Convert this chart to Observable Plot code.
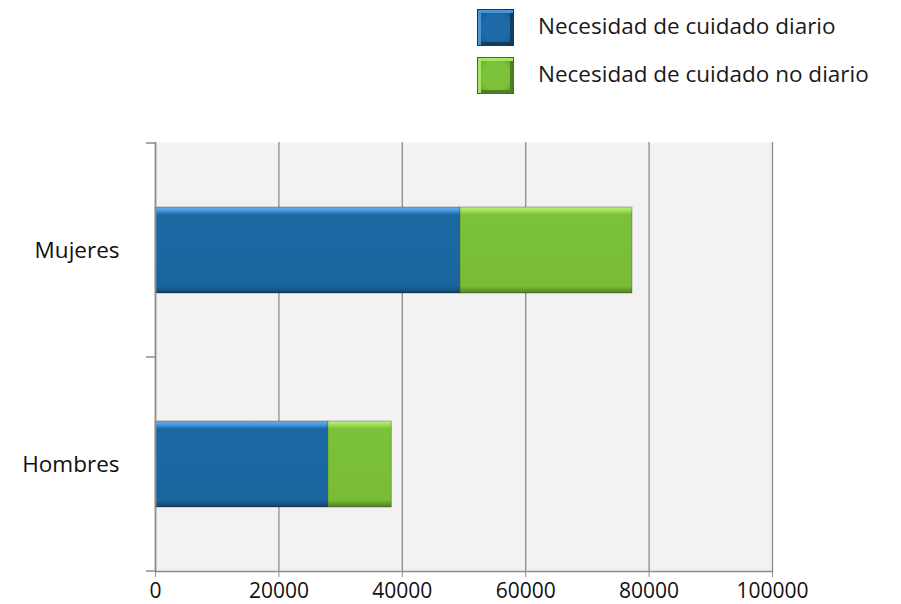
<!DOCTYPE html>
<html>
<head>
<meta charset="utf-8">
<script src="https://cdn.jsdelivr.net/npm/d3@7"></script>
<script src="https://cdn.jsdelivr.net/npm/@observablehq/plot@0.6"></script>
<style>
  html, body { margin: 0; padding: 0; background: #fff; }
  #wrap { position: relative; width: 901px; height: 604px; font-family: "Open Sans", sans-serif; }
  #legend { position: absolute; left: 477px; top: 9px; }
  .item { display: flex; align-items: center; height: 37px; margin-bottom: 11px; }
  .sw { width: 37px; height: 37px; box-sizing: border-box; border: 1px solid rgba(0,0,0,0.35); margin-right: 24px; }
  .lab { font-size: 22.5px; color: #1a1a1a; white-space: nowrap; position: relative; top: -2px; }
</style>
</head>
<body>
<div id="wrap"></div>
<script>
const categories = ["Mujeres", "Hombres"];
const series = ["Necesidad de cuidado diario", "Necesidad de cuidado no diario"];
const diario = [49400, 28000];
const noDiario = [27900, 10300];
const xTicks = [0, 20000, 40000, 60000, 80000, 100000];
const gridTicks = [20000, 40000, 60000, 80000, 100000];

const gradIds = ["gBlue", "gGreen"];

const data = [];
categories.forEach((c, i) => {
  data.push({cat: c, series: series[0], value: diario[i]});
  data.push({cat: c, series: series[1], value: noDiario[i]});
});

const ns = "http://www.w3.org/2000/svg";

function defsMark() {
  const d = document.createElementNS(ns, "defs");
  d.innerHTML = `
    <linearGradient id="gBlue" x1="0" y1="0" x2="0" y2="1">
      <stop offset="0" stop-color="#66b2ee"/>
      <stop offset="0.045" stop-color="#4597da"/>
      <stop offset="0.09" stop-color="#1c68a3"/>
      <stop offset="0.92" stop-color="#1a659e"/>
      <stop offset="0.96" stop-color="#165584"/>
      <stop offset="1" stop-color="#123f63"/>
    </linearGradient>
    <linearGradient id="gGreen" x1="0" y1="0" x2="0" y2="1">
      <stop offset="0" stop-color="#baf57a"/>
      <stop offset="0.045" stop-color="#9ddc58"/>
      <stop offset="0.09" stop-color="#7bc139"/>
      <stop offset="0.92" stop-color="#78bd35"/>
      <stop offset="0.96" stop-color="#639e2b"/>
      <stop offset="1" stop-color="#567f2c"/>
    </linearGradient>`;
  return d;
}

function bandEdgeTicks(index, scales, values, dimensions) {
  const y = scales.y;
  const bw = typeof y.bandwidth === "function" ? y.bandwidth() : scales.scales.y.bandwidth;
  const step = typeof y.step === "function" ? y.step() : scales.scales.y.step;
  const pad = (step - bw) / 2;
  const edges = categories.map(c => y(c) - pad);
  edges.push(y(categories[categories.length - 1]) + bw + pad);
  const g = document.createElementNS(ns, "g");
  const x0 = dimensions.marginLeft;
  for (const e of edges) {
    const l = document.createElementNS(ns, "line");
    l.setAttribute("x1", x0 - 9);
    l.setAttribute("x2", x0);
    l.setAttribute("y1", e);
    l.setAttribute("y2", e);
    l.setAttribute("stroke", "#8c8c8c");
    l.setAttribute("stroke-width", 1.5);
    g.appendChild(l);
  }
  return g;
}

const chart = Plot.plot({
  width: 901,
  height: 604,
  marginLeft: 155,
  marginRight: 129,
  marginTop: 142,
  marginBottom: 33,
  style: {fontFamily: "'Open Sans', sans-serif", background: "transparent"},
  x: {domain: [0, 100000]},
  y: {domain: categories, paddingInner: 0.6, paddingOuter: 0.3},
  color: {domain: series, range: gradIds.map(id => `url(#${id})`)},
  marks: [
    defsMark,
    Plot.frame({fill: "#f2f2f2", stroke: null}),
    Plot.gridX(gridTicks, {stroke: "#8c8c8c", strokeOpacity: 1, strokeWidth: 1.3}),
    Plot.barX(data, Plot.stackX({x: "value", y: "cat", fill: "series", stroke: "rgba(0,0,0,0.28)", strokeWidth: 1})),
    Plot.ruleX([0], {stroke: "#8c8c8c", strokeWidth: 1.8}),
    Plot.frame({anchor: "bottom", stroke: "#8c8c8c", strokeWidth: 1.5}),
    bandEdgeTicks,
    Plot.axisX({ticks: xTicks, tickFormat: d => String(d), tickSize: 6, tickPadding: 6, stroke: "#8c8c8c", fill: "#111", fontSize: 21, fontFamily: "'Open Sans', sans-serif", letterSpacing: "2.1px", label: null}),
    Plot.axisY({tickSize: 0, tickPadding: 36, fontSize: 22.5, fill: "#111", label: null})
  ]
});

const wrap = document.getElementById("wrap");
wrap.appendChild(chart);

const legend = document.createElement("div");
legend.id = "legend";
series.forEach((s, i) => {
  const item = document.createElement("div");
  item.className = "item";
  const sw = document.createElement("div");
  sw.className = "sw";
  sw.style.background = i === 0
    ? "radial-gradient(ellipse at center, #1c6aa8 55%, #14507f 100%)"
    : "radial-gradient(ellipse at center, #7cc33a 55%, #5c9a2a 100%)";
  sw.style.boxShadow = i === 0 ? "inset 3px 3px 0 #4a95d6, inset -3px -3px 0 #103d60" : "inset 3px 3px 0 #a7e565, inset -3px -3px 0 #4f7f22";
  const lab = document.createElement("span");
  lab.className = "lab";
  lab.textContent = s;
  item.appendChild(sw);
  item.appendChild(lab);
  legend.appendChild(item);
});
wrap.appendChild(legend);
</script>
</body>
</html>
